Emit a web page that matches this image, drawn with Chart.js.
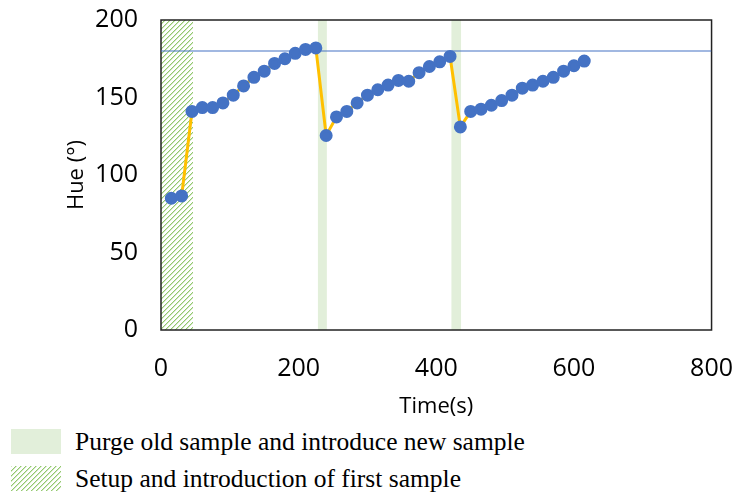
<!DOCTYPE html>
<html>
<head>
<meta charset="utf-8">
<script src="https://cdn.jsdelivr.net/npm/chart.js@4.4.1/dist/chart.umd.min.js"></script>
<style>
    body { margin: 0; background: #fff; overflow: hidden; }
    #wrap { position: relative; width: 749px; height: 430px; margin-top: -10px; }
    .legend { position: absolute; left: 11px; font-family: 'Liberation Serif', 'Times New Roman', serif; font-size: 25.5px; color: #000; }
    .legend .sw { position: absolute; left: 0; width: 50px; height: 25px; }
    .legend .txt { position: absolute; left: 64px; top: -2px; white-space: nowrap; }
</style>
</head>
<body>
<div id="wrap"><canvas id="hueChart"></canvas></div>
<div class="legend" style="top:429px"><div class="sw" id="swPurge"></div><div class="txt" id="txtPurge"></div></div>
<div class="legend" style="top:466px"><div class="sw" id="swSetup"></div><div class="txt" id="txtSetup"></div></div>
<script>
// Sample times (s) and measured hue (deg)
const timeS = [15, 30, 45, 60, 75, 90, 105, 120, 135, 150, 165, 180, 195, 210, 225,
    240, 255, 270, 285, 300, 315, 330, 345, 360, 375, 390, 405, 420,
    435, 450, 465, 480, 495, 510, 525, 540, 555, 570, 585, 600, 615];
const hue = [85, 86.5, 141, 143.5, 143.5, 146.5, 151.5, 157.5, 163, 167, 172, 175, 178.5, 181, 182,
    125.5, 137.5, 141, 146.5, 151.5, 155, 158, 161, 160.5, 166, 170, 173, 176.5,
    131, 141, 142.5, 145, 148, 151.5, 156, 158, 160.5, 163, 167, 170.5, 173.5];

// reference hue level
const refHue = 180;
const xRange = [0, 800];

// shaded time windows (s)
const setupWindow = [0, 47];
const purgeWindows = [[228, 241], [422, 436]];

const legendLabels = ['Purge old sample and introduce new sample', 'Setup and introduction of first sample'];
const xTitle = 'Time(s)';
const yTitle = 'Hue (°)';

const purgeColor = '#E2EFDA';

// 5x5 tile with a soft "/" diagonal
function makeHatch() {
    const c = document.createElement('canvas');
    c.width = 5; c.height = 5;
    const g = c.getContext('2d');
    g.fillStyle = '#fff';
    g.fillRect(0, 0, 5, 5);
    for (let i = 0; i < 5; i++) {
        g.fillStyle = '#D2E8C2';
        g.fillRect((i + 1) % 5, 4 - i, 1, 1);
        g.fillStyle = '#93C86F';
        g.fillRect(i, 4 - i, 1, 1);
    }
    return c;
}
const hatchCanvas = makeHatch();

// legend (html below the canvas)
document.getElementById('txtPurge').textContent = legendLabels[0];
document.getElementById('txtSetup').textContent = legendLabels[1];
document.getElementById('swPurge').style.background = purgeColor;
document.getElementById('swSetup').style.backgroundImage = 'url(' + hatchCanvas.toDataURL() + ')';

const bandsPlugin = {
    id: 'bands',
    beforeDatasetsDraw(chart) {
        const { ctx, chartArea: a, scales: { x } } = chart;
        ctx.save();
        ctx.beginPath();
        ctx.rect(a.left, a.top, a.right - a.left, a.bottom - a.top);
        ctx.clip();
        ctx.fillStyle = ctx.createPattern(hatchCanvas, 'repeat');
        let x0 = Math.round(x.getPixelForValue(setupWindow[0]));
        let x1 = Math.round(x.getPixelForValue(setupWindow[1]));
        ctx.fillRect(x0, a.top, x1 - x0, a.bottom - a.top);
        ctx.fillStyle = purgeColor;
        purgeWindows.forEach(w => {
            x0 = x.getPixelForValue(w[0]);
            x1 = x.getPixelForValue(w[1]);
            ctx.fillRect(x0, a.top, x1 - x0, a.bottom - a.top);
        });
        ctx.restore();
        // plot frame
        ctx.save();
        ctx.strokeStyle = '#222';
        ctx.lineWidth = 1.5;
        ctx.strokeRect(a.left, a.top, a.right - a.left, a.bottom - a.top);
        ctx.restore();
    }
};

const tickFont = { family: "'Open Sans', sans-serif", size: 25 };
const titleFont = { family: "'Open Sans', sans-serif", size: 22 };

new Chart(document.getElementById('hueChart'), {
    type: 'line',
    data: {
        datasets: [
            {
                label: 'Hue',
                data: timeS.map((t, i) => ({ x: t, y: hue[i] })),
                borderColor: '#FFC000',
                borderWidth: 3,
                pointBackgroundColor: '#4472C4',
                pointBorderColor: '#4472C4',
                pointRadius: 5,
                tension: 0,
                order: 1
            },
            {
                label: 'Reference',
                data: xRange.map(t => ({ x: t, y: refHue })),
                borderColor: '#4472C4',
                borderWidth: 1.2,
                pointRadius: 0,
                order: 2
            }
        ]
    },
    options: {
        responsive: true,
        maintainAspectRatio: false,
        animation: false,
        layout: { autoPadding: false, padding: { left: 64, right: 14, top: 11, bottom: 0 } },
        plugins: {
            legend: { display: false },
            tooltip: { enabled: false }
        },
        scales: {
            x: {
                type: 'linear',
                min: 0,
                max: 800,
                ticks: { stepSize: 200, font: tickFont, color: '#000', padding: 16 },
                grid: { display: false },
                border: { display: false },
                title: { display: true, text: xTitle, font: titleFont, color: '#000', padding: { top: 11, bottom: 0 } },
                afterFit(scale) { scale.height = 90; }
            },
            y: {
                min: 0,
                max: 200,
                ticks: { stepSize: 50, font: tickFont, color: '#000', padding: 15 },
                grid: { display: false },
                border: { display: false },
                title: { display: true, text: yTitle, font: titleFont, color: '#000', padding: 0 },
                afterFit(scale) { scale.width = 97; }
            }
        }
    },
    plugins: [bandsPlugin]
});
</script>
</body>
</html>
